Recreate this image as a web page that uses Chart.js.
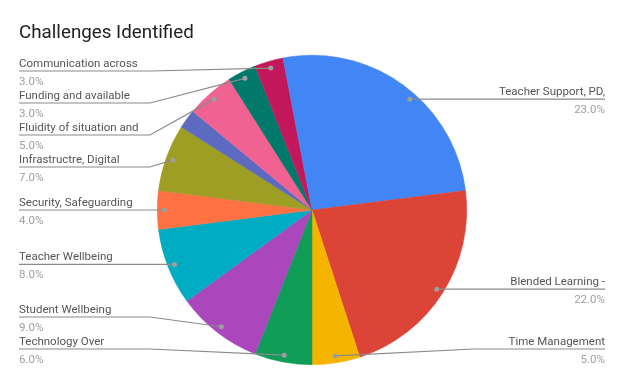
<!DOCTYPE html>
<html>
<head>
<meta charset="utf-8">
<script src="https://cdn.jsdelivr.net/npm/chart.js@4.4.0/dist/chart.umd.min.js"></script>
<style>
  html, body { margin: 0; padding: 0; background: #fff; }
  #wrap { width: 624px; height: 385px; }
</style>
</head>
<body>
<div id="wrap"><canvas id="chart" width="624" height="385"></canvas></div>
<script>
// slice names as shown (two slices carry no label in the picture)
var categories = [
    'Teacher Support, PD,',
    'Blended Learning -',
    'Time Management',
    'Technology Over',
    'Student Wellbeing',
    'Teacher Wellbeing',
    'Security, Safeguarding',
    'Infrastructre, Digital',
    '',
    'Fluidity of situation and',
    'Funding and available',
    'Communication across',
    ''
];
// share of each challenge, %
var shares = [23, 22, 5, 6, 9, 8, 4, 7, 2, 5, 3, 3, 3];
var sliceColors = ['#4285f4', '#db4437', '#f4b400', '#0f9d58', '#ab47bc', '#00acc1',
    '#ff7043', '#9e9d24', '#5c6bc0', '#f06292', '#00796b', '#c2185b', '#4285f4'];

// draws title and the outside labels with leader lines, google sheets style
var outsideLabels = {
    id: 'outsideLabels',
    afterDraw: function(chart) {
        var ctx = chart.ctx;
        var meta = chart.getDatasetMeta(0);
        var total = shares.reduce((a, b) => a + b, 0);
        var step = 32, minY = 71, maxY = 349;
        var left = [], right = [];

        ctx.save();
        ctx.fillStyle = '#202124';
        ctx.font = '18.8px Roboto';
        ctx.textAlign = 'left';
        ctx.textBaseline = 'alphabetic';
        ctx.fillText('Challenges Identified', 19, 38);

        meta.data.forEach(function(arc, i) {
            if (!categories[i]) return;
            var mid = (arc.startAngle + arc.endAngle) / 2;
            var r = arc.outerRadius * 0.955;
            var dot = {x: arc.x + Math.cos(mid) * r, y: arc.y + Math.sin(mid) * r, i: i};
            (dot.x < arc.x ? left : right).push(dot);
        });

        function place(list) {
            list.sort((a, b) => a.y - b.y);
            var prev = -Infinity;
            list.forEach(function(d) {
                d.ly = Math.max(d.y, minY, prev + step);
                prev = d.ly;
            });
            var next = Infinity;
            for (var k = list.length - 1; k >= 0; k--) {
                list[k].ly = Math.min(list[k].ly, maxY, next - step);
                next = list[k].ly;
            }
        }
        place(left);
        place(right);

        function drawOne(d, isLeft) {
            var edge = isLeft ? 19 : 605;
            var elbow = isLeft ? 150 : 474;
            ctx.strokeStyle = '#8a8a8a';
            ctx.lineWidth = 1.2;
            ctx.beginPath();
            ctx.moveTo(edge, d.ly);
            if (Math.abs(d.ly - d.y) > 0.5) {
                ctx.lineTo(elbow, d.ly);
            }
            ctx.lineTo(d.x, d.y);
            ctx.stroke();
            ctx.fillStyle = '#9e9e9e';
            ctx.beginPath();
            ctx.arc(d.x, d.y, 2.5, 0, Math.PI * 2);
            ctx.fill();

            ctx.textAlign = isLeft ? 'left' : 'right';
            ctx.font = '11.5px Roboto';
            ctx.fillStyle = '#555555';
            ctx.textBaseline = 'alphabetic';
            ctx.fillText(categories[d.i], edge, d.ly - 4);
            ctx.fillStyle = '#a0a0a0';
            ctx.fillText((shares[d.i] / total * 100).toFixed(1) + '%', edge, d.ly + 14);
        }
        left.forEach(d => drawOne(d, true));
        right.forEach(d => drawOne(d, false));
        ctx.restore();
    }
};

new Chart(document.getElementById('chart'), {
    type: 'pie',
    data: {
        labels: categories,
        datasets: [{
            data: shares,
            backgroundColor: sliceColors,
            borderColor: sliceColors,
            borderWidth: 0.5
        }]
    },
    options: {
        responsive: false,
        animation: false,
        layout: {padding: {top: 55, bottom: 20, left: 0, right: 0}},
        plugins: {
            legend: {display: false},
            tooltip: {enabled: false},
            title: {display: false}
        }
    },
    plugins: [outsideLabels]
});
</script>
</body>
</html>
